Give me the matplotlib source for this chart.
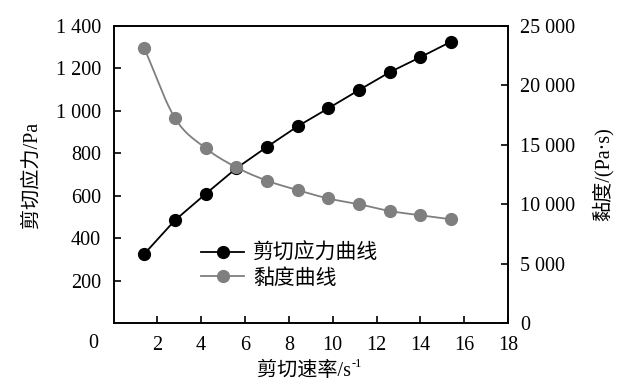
import numpy as np
import matplotlib
matplotlib.use("Agg")
import matplotlib.pyplot as plt

plt.rcParams["font.family"] = ["Liberation Serif", "Noto Sans CJK SC"]

# data
shear_rate = [1.4, 2.8, 4.2, 5.6, 7.0, 8.4, 9.8, 11.2, 12.6, 14.0, 15.4]
shear_stress = [325, 484, 608, 729, 830, 927, 1012, 1098, 1182, 1253, 1326]
viscosity = [23150, 17260, 14720, 13110, 11980, 11190, 10480, 10000, 9430, 9070, 8730]

x_ticks = [2, 4, 6, 8, 10, 12, 14, 16, 18]
left_ticks = [200, 400, 600, 800, 1000, 1200, 1400]
left_labels = ["200", "400", "600", "800", "1 000", "1 200", "1 400"]
right_ticks = [0, 5000, 10000, 15000, 20000, 25000]
right_labels = ["0", "5 000", "10 000", "15 000", "20 000", "25 000"]


def smooth(x, y, n=20):
    # catmull-rom style curve, like excel's smoothed line
    x = np.asarray(x, float)
    y = np.asarray(y, float)
    px = np.concatenate([[2 * x[0] - x[1]], x, [2 * x[-1] - x[-2]]])
    py = np.concatenate([[2 * y[0] - y[1]], y, [2 * y[-1] - y[-2]]])
    xs, ys = [], []
    t = np.linspace(0, 1, n)
    for i in range(1, len(px) - 2):
        for p, out in ((px, xs), (py, ys)):
            p0, p1, p2, p3 = p[i - 1], p[i], p[i + 1], p[i + 2]
            out.extend(0.5 * (2 * p1 + (-p0 + p2) * t
                              + (2 * p0 - 5 * p1 + 4 * p2 - p3) * t ** 2
                              + (-p0 + 3 * p1 - 3 * p2 + p3) * t ** 3))
    return xs, ys


fig = plt.figure(figsize=(6.24, 3.91), dpi=100)
ax = fig.add_axes([113.5 / 624, 68 / 391, 394.5 / 624, 297 / 391])
ax2 = ax.twinx()

fs = 14.5
black, = ax.plot(shear_rate, shear_stress, color="black", lw=1.3,
                 marker="o", ms=8.5, label="剪切应力曲线")
sx, sy = smooth(shear_rate, viscosity)
ax2.plot(sx, sy, color="#7f7f7f", lw=1.3)
ax2.plot(shear_rate, viscosity, ls="none", marker="o", ms=8.5, color="#7f7f7f")
gray, = ax2.plot([], [], color="#7f7f7f", lw=1.3, marker="o", ms=8.5, label="黏度曲线")

ax.set_xlim(0, 18)
ax.set_ylim(0, 1400)
ax2.set_ylim(0, 25000)

ax.set_xticks(x_ticks)
ax.set_xticklabels([str(v) for v in x_ticks], fontsize=fs)
ax.set_yticks(left_ticks)
ax.set_yticklabels(left_labels, fontsize=fs)
ax2.set_yticks(right_ticks)
ax2.set_yticklabels(right_labels, fontsize=fs)

ax.tick_params(axis="x", direction="in", length=5, width=1.2, pad=9)
ax.tick_params(axis="y", direction="in", length=5, width=1.2, pad=9)
ax2.tick_params(axis="y", direction="in", length=5, width=1.2, pad=9)
for a in (ax, ax2):
    for s in a.spines.values():
        s.set_linewidth(1.2)

# shared origin label sits left of the corner
fig.text(93 / 624, 1 - 344 / 391, "0", fontsize=fs, ha="center", va="center")

# x label with superscript, built from two texts
fig.text(351 / 624, 1 - 371 / 391, "剪切速率/s", fontsize=fs, ha="right", va="center")
fig.text(352 / 624, 1 - 364 / 391, "-1", fontsize=9, ha="left", va="center")

ax.set_ylabel("剪切应力/Pa", fontsize=fs, labelpad=10)
ax2.set_ylabel("黏度/(Pa·s)", fontsize=fs, rotation=90, labelpad=12)

ax2.legend(handles=[black, gray], loc="upper left", bbox_to_anchor=(0.2, 0.295),
           frameon=False, fontsize=15, handlelength=2.1, handletextpad=0.4,
           labelspacing=0.25, borderaxespad=0)

fig.savefig("out.png", dpi=100)
